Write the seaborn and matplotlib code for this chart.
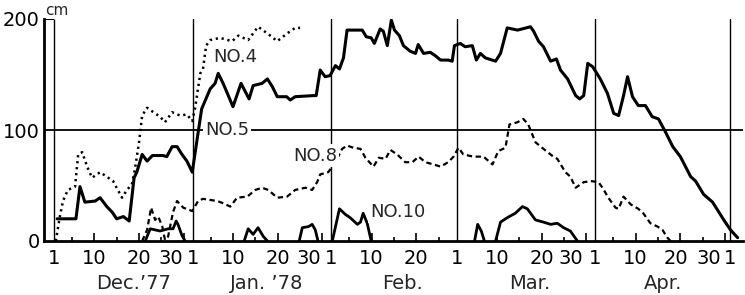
import numpy as np
import pandas as pd
import matplotlib
matplotlib.use("Agg")
import matplotlib.pyplot as plt
import seaborn as sns

# day index: 1 = Dec 1 1977, 32 = Jan 1, 63 = Feb 1, 91 = Mar 1, 122 = Apr 1, 152 = May 1
month_starts = [1, 32, 63, 91, 122, 152]
month_lengths = [31, 31, 28, 31, 30]
month_names = ["Dec.\u201977", "Jan. \u201978", "Feb.", "Mar.", "Apr."]
month_name_pos = [18.7, 48.6, 78.8, 107.4, 137.1]

tick_days = [1, 10, 20, 27, 32, 41, 51, 58, 63, 72, 82, 91, 100, 110, 116.5, 122, 131, 140, 147.3, 152]
tick_labels = ["1", "10", "20", "30", "1", "10", "20", "30", "1", "10", "20",
               "1", "10", "20", "30", "1", "10", "20", "30", "1"]

# snow depth (cm) at station NO.5
no5_day = [1.7, 5.9, 6.8, 7.9, 10.2, 11.3, 12.8, 14.0, 15.0, 16.5, 17.8, 18.9, 19.5, 20.7,
           21.8, 23.0, 25.4, 26.2, 27.4, 28.5, 29.6, 30.7, 31.9, 33.0, 34.0, 35.9, 37.0,
           37.7, 38.8, 41.0, 42.8, 44.6, 45.5, 47.5, 48.7, 49.8, 50.9, 53.0, 53.8, 54.9,
           59.0, 59.6, 60.5, 61.6, 62.7, 63.9, 64.8, 65.7, 66.5, 69.9, 70.8, 71.9, 72.6,
           73.9, 74.6, 75.5, 76.4, 77.1, 78.2, 79.1, 80.6, 81.8, 82.4, 83.6, 85.1, 86.2,
           87.4, 89.1, 90.0, 90.5, 91.8, 92.9, 94.5, 95.4, 96.3, 97.4, 99.7, 100.8, 102.3,
           104.6, 107.5, 108.2, 109.3, 110.4, 112.0, 113.3, 114.2, 115.8, 117.6, 118.5,
           119.4, 120.3, 121.4, 123.1, 124.7, 126.1, 127.2, 128.3, 129.2, 130.3, 131.6,
           133.2, 134.7, 136.1, 137.7, 139.3, 141.0, 143.3, 144.4, 146.2, 148.2, 149.3,
           150.7, 152.2, 153.8]
no5_cm = [20, 20, 49, 35, 36, 39, 31, 26, 20, 22, 18, 57, 62, 78,
          72, 77, 77, 76, 85, 85, 78, 72, 62, 92, 119, 137, 142,
          151, 142, 121, 142, 128, 140, 142, 146, 139, 130, 130, 127, 130,
          131, 131, 154, 148, 149, 158, 155, 165, 190, 190, 184, 183, 178,
          191, 189, 176, 199, 190, 185, 176, 171, 169, 177, 169, 170, 167,
          163, 163, 162, 176, 178, 175, 176, 163, 169, 165, 162, 169, 192,
          190, 193, 189, 180, 175, 162, 164, 154, 146, 131, 128,
          131, 160, 157, 146, 133, 115, 113, 131, 148, 130, 122,
          122, 112, 110, 98, 85, 76, 58, 54, 42, 35, 28,
          19, 10, 3]

# station NO.4 (record stops at end of January)
no4_day = [1.4, 2.3, 3.0, 4.1, 5.7, 6.4, 7.3, 8.4, 9.5, 11.3, 14.2, 16.2, 17.3, 18.4, 19.1,
           20.0, 20.7, 21.8, 23.6, 24.7, 25.8, 27.4, 29.2, 30.7, 31.9, 32.5, 33.7, 34.3,
           35.0, 35.9, 38.1, 40.8, 42.2, 44.4, 46.6, 48.7, 50.9, 53.1, 54.9, 56.0]
no4_cm = [0, 22, 36, 46, 49, 78, 80, 67, 57, 62, 54, 39, 46, 51, 65,
          89, 113, 120, 115, 112, 107, 116, 113, 114, 108, 119, 151, 155,
          176, 181, 183, 180, 185, 181, 193, 187, 180, 187, 192, 192]

# station NO.8
no8_day = [20.7, 21.8, 22.7, 23.6, 24.3, 25.2, 25.8, 26.5, 27.6, 28.5, 29.9, 31.9, 33.2,
           34.3, 35.9, 37.5, 38.8, 40.4, 41.9, 44.2, 46.0, 47.5, 48.9, 50.9, 53.1, 54.9,
           57.2, 58.7, 59.8, 60.5, 62.3, 63.9, 65.4, 66.5, 67.9, 69.5, 70.6, 72.4, 73.6,
           75.1, 76.2, 77.7, 79.5, 81.1, 82.5, 84.0, 85.8, 87.4, 89.1, 90.3, 91.4, 92.5,
           94.7, 97.0, 99.0, 100.3, 101.9, 102.8, 104.6, 105.9, 107.0, 108.6, 110.4,
           112.6, 113.5, 115.3, 116.4, 117.6, 119.4, 121.0, 122.7, 123.6, 124.9, 126.5,
           127.2, 128.3, 129.9, 131.6, 132.7, 134.3, 135.9, 137.0, 138.1, 138.8]
no8_cm = [0, 10, 30, 19, 22, 13, 1, 4, 26, 36, 30, 27, 36,
          38, 37, 36, 34, 31, 39, 40, 46, 48, 46, 39, 40, 46,
          48, 46, 53, 60, 62, 71, 83, 86, 84, 83, 75, 67, 75,
          74, 82, 78, 71, 71, 76, 71, 69, 67, 71, 76, 84, 78,
          76, 76, 69, 81, 84, 105, 107, 110, 105, 89, 83,
          76, 74, 62, 58, 48, 53, 54, 53, 48, 39, 30,
          29, 40, 33, 29, 25, 16, 13, 10, 3, 0]

# station NO.10 (several separate snow episodes)
no10_day = [21.4, 22.5, 24.7, 26.5, 27.6, 28.3, 28.7, 29.6, 30.3,
            43.5, 44.4, 45.5, 46.6, 47.8, 48.7,
            55.8, 56.5, 57.9, 58.7, 59.4, 60.0,
            63.2, 64.8, 66.1, 67.2, 68.8, 69.5, 70.1, 71.0, 71.9,
            95.0, 95.7, 96.5, 97.2,
            99.7, 100.8, 102.3, 104.1, 105.7, 106.8, 108.6, 110.4, 112.0, 113.5, 114.9, 116.4, 118.0]
no10_cm = [0, 11, 9, 11, 11, 18, 15, 5, 0,
           0, 11, 6, 12, 4, 0,
           0, 12, 13, 15, 10, 0,
           0, 29, 24, 21, 15, 17, 25, 16, 0,
           0, 15, 9, 0,
           0, 17, 21, 25, 31, 29, 19, 17, 15, 16, 12, 9, 0]
no10_episode = [0] * 9 + [1] * 6 + [2] * 6 + [3] * 9 + [4] * 4 + [5] * 13

sns.set_style("white")
plt.rcParams["font.family"] = ["DejaVu Sans"]

fig = plt.figure(figsize=(7.45, 2.95), dpi=100)
ax = fig.add_axes([44 / 745, 54 / 295, 699 / 745, 222 / 295])

x_left = -1.24
ax.set_xlim(x_left, 155)
ax.set_ylim(0, 200)

# reference lines
for m in month_starts[1:]:
    ax.axvline(m, color="black", lw=1.0, zorder=1)
ax.vlines(1, 0, 200, color="black", lw=1.0, zorder=1)
ax.hlines(200, x_left, 1, color="black", lw=1.5, zorder=1)
ax.axhline(100, color="black", lw=1.3, zorder=1)

# small day ticks every 5 days
for start, length in zip(month_starts[:-1], month_lengths):
    for k in range(5, length + 1, 5):
        h = 7 if k % 10 == 0 else 3.5
        ax.vlines(start + k - 1, 0, h, color="black", lw=1.2, zorder=1)

sns.lineplot(x=no5_day, y=no5_cm, color="black", lw=2.2, estimator=None, sort=False, ax=ax, zorder=3)
sns.lineplot(x=no4_day, y=no4_cm, color="black", lw=1.8, estimator=None, sort=False, ax=ax,
             linestyle=(0, (0.9, 1.5)), zorder=3)
sns.lineplot(x=no8_day, y=no8_cm, color="black", lw=1.6, estimator=None, sort=False, ax=ax,
             linestyle=(0, (2.4, 1.6)), zorder=3)
df10 = pd.DataFrame({"day": no10_day, "cm": no10_cm, "ep": no10_episode})
sns.lineplot(data=df10, x="day", y="cm", units="ep", estimator=None, sort=False,
             color="black", lw=2.0, ax=ax, zorder=3)

lab_kw = dict(fontsize=13, va="center", ha="left", zorder=5,
              bbox=dict(facecolor="white", edgecolor="none", pad=1.5))
ax.text(36.5, 166, "NO.4", **lab_kw)
ax.text(34.7, 100, "NO.5", **lab_kw)
ax.text(54.4, 77, "NO.8", **lab_kw)
ax.text(71.6, 26, "NO.10", **lab_kw)

# axes styling
sns.despine(ax=ax, top=True, right=True)
for s in ["left", "bottom"]:
    ax.spines[s].set_color("black")
    ax.spines[s].set_linewidth(2.0)
    ax.spines[s].set_zorder(4)

ax.set_yticks([0, 100, 200])
ax.set_yticklabels(["0", "100", "200"], fontsize=14)
ax.set_yticks(np.arange(20, 200, 20), minor=True)
ax.tick_params(axis="y", which="major", direction="inout", length=6, width=1.5, pad=0, colors="black")
ax.tick_params(axis="y", which="minor", direction="in", length=3, width=1.5, colors="black")

ax.set_xticks(tick_days)
ax.set_xticklabels(tick_labels, fontsize=14)
ax.tick_params(axis="x", which="major", length=0, pad=6, colors="black")

ax.text(x_left + 0.2, 201, "cm", fontsize=11, ha="left", va="bottom")
for name, pos in zip(month_names, month_name_pos):
    ax.text(pos, -38, name, fontsize=14, ha="center", va="center", clip_on=False)

ax.set_xlabel("")
ax.set_ylabel("")
ax.grid(False)

fig.savefig("out.png", dpi=100, facecolor="white")
